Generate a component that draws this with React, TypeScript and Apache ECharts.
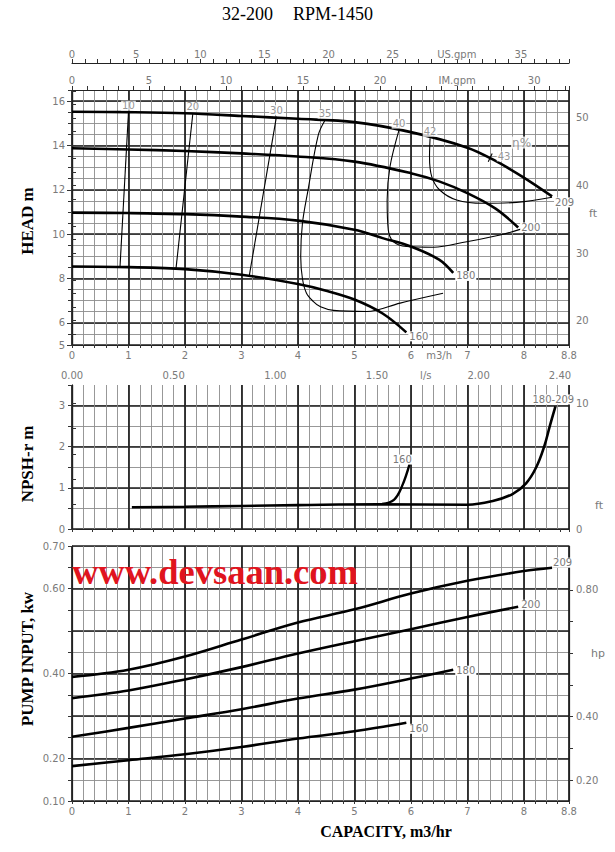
import React, { useEffect, useRef } from 'react';
import * as echarts from 'echarts';

// ---------------- data ----------------
const titleModel = '32-200';
const titleRpm = 'RPM-1450';

const qLabels = [0, 1, 2, 3, 4, 5, 6, 6.5, 7, 8, 8.8];
const qLabelsPower = [0, 1, 2, 3, 4, 5, 6, 7, 8, 8.8];
const headLabels = [5, 6, 8, 10, 12, 14, 16];
const headMajor = [5, 6, 8, 10, 12, 14, 16];
const ftTicks = [18, 20, 22, 24, 26, 28, 30, 32, 34, 36, 38, 40, 42, 44, 46, 48, 50, 52, 54];
const ftLabels = [20, 30, 40, 50];
const usGpmLabels = [0, 5, 10, 15, 20, 25, 30, 35];
const imGpmLabels = [0, 5, 10, 15, 20, 25, 30];
const lsLabels = [0, 0.5, 1, 1.5, 1.74, 2, 2.4];
const npshLabels = [0, 1, 2, 3];
const npshFtTicks = [0, 2, 4, 6, 8, 10];
const npshFtLabels = [0, 10];
const kwLabels = [0.1, 0.2, 0.4, 0.6, 0.7];
const hpTicks = [0.2, 0.3, 0.4, 0.5, 0.6, 0.7, 0.8, 0.9];
const hpLabels = [0.2, 0.4, 0.8];

// head curves [Q m3/h, H m]
const head209 = [[0, 15.52], [1, 15.5], [2, 15.45], [3, 15.33], [4, 15.2], [5, 15.05], [6, 14.6], [7, 13.9], [7.5, 13.3], [8, 12.55], [8.5, 11.7]];
const head200 = [[0, 13.87], [1, 13.82], [2, 13.75], [3, 13.64], [4, 13.5], [5, 13.27], [6, 12.75], [6.5, 12.38], [7, 11.85], [7.5, 11.15], [7.9, 10.3]];
const head180 = [[0, 10.97], [1, 10.95], [2, 10.9], [3, 10.79], [4, 10.61], [5, 10.2], [5.5, 9.82], [6, 9.44], [6.5, 8.85], [6.75, 8.25]];
const head160 = [[0, 8.54], [1, 8.51], [2, 8.42], [3, 8.17], [4, 7.75], [4.5, 7.45], [5, 7.05], [5.5, 6.42], [5.92, 5.57]];

// iso-efficiency curves [Q, H]
const eff10 = [[1.0, 15.5], [0.85, 8.52]];
const eff20 = [[2.14, 15.45], [1.84, 8.41]];
const eff30 = [[3.62, 15.3], [3.14, 8.14]];
const eff35 = [[4.48, 15.14], [4.36, 14.47], [4.18, 12.0], [4.08, 10.48], [4.05, 8.98], [4.08, 8.0], [4.15, 7.35], [4.27, 6.97], [4.4, 6.72], [4.63, 6.56], [5.22, 6.51], [5.81, 6.89], [6.57, 7.33]];
const eff40 = [[5.79, 14.69], [5.63, 13.04], [5.58, 11.54], [5.6, 10.19], [5.69, 9.66], [5.92, 9.44], [6.4, 9.41], [6.99, 9.66], [7.58, 9.96], [7.99, 10.26]];
const eff42 = [[6.34, 14.32], [6.33, 13.49], [6.37, 12.59], [6.51, 11.99], [6.81, 11.54], [7.28, 11.39], [7.87, 11.43], [8.5, 11.66]];
const eff43 = [[7.37, 13.26], [7.44, 13.64]];
const effNames = ['10', '20', '30', '35', '40', '42', '43'];
const etaLabel = 'η%';
const etaAt = [7.96, 14.13];

// NPSH-r [Q, m]
const npsh180209 = [[1.06, 0.53], [2, 0.54], [3, 0.56], [4, 0.58], [5.42, 0.6], [7, 0.59], [7.45, 0.68], [7.8, 0.85], [8.04, 1.11], [8.22, 1.5], [8.36, 2.0], [8.46, 2.5], [8.56, 2.98]];
const npsh160 = [[5.49, 0.61], [5.7, 0.71], [5.84, 1.03], [5.98, 1.59]];
const npshNames = ['180-209', '160'];

// pump input [Q, kW]
const pw209 = [[0, 0.392], [1, 0.409], [2, 0.44], [3, 0.48], [4, 0.52], [5, 0.551], [6, 0.588], [7, 0.618], [8, 0.641], [8.5, 0.649]];
const pw200 = [[0, 0.342], [1, 0.36], [2, 0.386], [3, 0.415], [4, 0.447], [5, 0.476], [6, 0.504], [7, 0.533], [7.9, 0.557]];
const pw180 = [[0, 0.251], [1, 0.272], [2, 0.294], [3, 0.316], [4, 0.341], [5, 0.362], [6, 0.388], [6.75, 0.409]];
const pw160 = [[0, 0.182], [1, 0.196], [2, 0.21], [3, 0.227], [4, 0.247], [5, 0.264], [5.92, 0.284]];
const impellers = ['209', '200', '180', '160'];

// unit conversions
const Q_MAX = 8.8;
const M_TO_FT = 3.28084;
const M3H_TO_USGPM = 4.40287;
const M3H_TO_IMGPM = 3.66614;
const M3H_TO_LS = 1 / 3.6;
const KW_TO_HP = 1.34102;
const H_MIN = 5, H_MAX = 16.5;
const N_MIN = 0, N_MAX = 3.5;
const P_MIN = 0.1, P_MAX = 0.7;

// ---------------- styles ----------------
const FONT = 'DejaVu Sans';
const SERIF = 'Liberation Serif';
const lbl = { color: '#7a7a7a', fontSize: 10, fontFamily: FONT };
const minorSplit = { show: true, lineStyle: { color: '#8c8c8c', width: 0.9 } };
const majorSplit = { show: true, lineStyle: { color: '#1c1c1c', width: 1.7 } };
const axisLn = { show: true, lineStyle: { color: '#222', width: 1.2 } };
const tickLn = { color: '#333', width: 1 };
const near = (a: number, b: number) => Math.abs(a - b) < 1e-6;

function xMinor(gridIndex: number, ticks: boolean) {
  return {
    type: 'value', gridIndex, position: 'bottom', min: 0, max: Q_MAX, interval: 0.2,
    axisLine: axisLn, axisTick: { show: ticks, length: 3, lineStyle: tickLn },
    axisLabel: { show: false }, splitLine: minorSplit,
  };
}
function xMajor(gridIndex: number, labels: number[] | null) {
  return {
    type: 'value', gridIndex, position: 'bottom', min: 0, max: Q_MAX, interval: 1,
    axisLine: { show: false }, axisTick: { show: false },
    axisLabel: labels
      ? {
          ...lbl, margin: 5, customValues: labels,
          formatter: (v: number) => (near(v, 8.8) ? '8.8' : near(v, 6.5) ? 'm3/h' : String(Math.round(v))),
        }
      : { show: false },
    splitLine: majorSplit,
  };
}

export default function App() {
  const ref = useRef<HTMLDivElement>(null);
  useEffect(() => {
    if (!ref.current) return;
    const chart = echarts.init(ref.current, null, { renderer: 'svg' });

    const grids = [
      { left: 72, top: 90, width: 497, height: 255 },
      { left: 72, top: 385, width: 497, height: 144 },
      { left: 72, top: 546, width: 497, height: 255 },
    ];

    const xAxis: any[] = [
      xMinor(0, true), // 0
      xMajor(0, qLabels), // 1
      { // 2 US gpm
        type: 'value', gridIndex: 0, position: 'top', offset: 27, min: 0, max: Q_MAX * M3H_TO_USGPM, interval: 1,
        axisLine: axisLn, axisTick: { show: true, length: 4, lineStyle: tickLn },
        axisLabel: { ...lbl, margin: 4, customValues: usGpmLabels, formatter: (v: number) => (near(v, 30) ? 'US.gpm' : String(Math.round(v))) },
        splitLine: { show: false },
      },
      { // 3 IM gpm
        type: 'value', gridIndex: 0, position: 'top', offset: 0, min: 0, max: Q_MAX * M3H_TO_IMGPM, interval: 1,
        axisLine: axisLn, axisTick: { show: true, length: 4, lineStyle: tickLn },
        axisLabel: { ...lbl, margin: 5, customValues: imGpmLabels, formatter: (v: number) => (near(v, 25) ? 'IM.gpm' : String(Math.round(v))) },
        splitLine: { show: false },
      },
      xMinor(1, false), // 4
      xMajor(1, null), // 5
      { // 6 l/s
        type: 'value', gridIndex: 1, position: 'top', offset: 19, min: 0, max: Q_MAX * M3H_TO_LS, interval: 0.1,
        axisLine: axisLn, axisTick: { show: true, inside: true, length: 3, lineStyle: tickLn },
        axisLabel: { ...lbl, inside: true, margin: 4, customValues: lsLabels, formatter: (v: number) => (near(v, 1.74) ? 'l/s' : v.toFixed(2)) },
        splitLine: { show: false },
      },
      xMinor(2, true), // 7
      xMajor(2, qLabelsPower), // 8
    ];

    const yAxis: any[] = [
      { // 0 head minor
        type: 'value', gridIndex: 0, position: 'left', min: H_MIN, max: H_MAX, interval: 0.5,
        axisLine: axisLn, axisTick: { show: true, length: 4, lineStyle: tickLn }, axisLabel: { show: false }, splitLine: minorSplit,
      },
      { // 1 head major
        type: 'value', gridIndex: 0, position: 'left', min: H_MIN, max: H_MAX, interval: 1,
        axisLine: { show: false }, axisTick: { show: true, length: 5, customValues: headMajor, lineStyle: tickLn },
        axisLabel: { ...lbl, margin: 7, customValues: headLabels }, splitLine: majorSplit,
      },
      { // 2 ft
        type: 'value', gridIndex: 0, position: 'right', min: H_MIN * M_TO_FT, max: H_MAX * M_TO_FT,
        axisLine: axisLn, axisTick: { show: true, length: 4, customValues: ftTicks, lineStyle: tickLn },
        axisLabel: { ...lbl, margin: 7, customValues: ftLabels }, splitLine: { show: false },
      },
      { // 3 npsh minor
        type: 'value', gridIndex: 1, position: 'left', min: N_MIN, max: N_MAX, interval: 0.5,
        axisLine: axisLn, axisTick: { show: true, length: 4, lineStyle: tickLn }, axisLabel: { show: false },
        splitLine: { ...minorSplit, showMaxLine: false },
      },
      { // 4 npsh major
        type: 'value', gridIndex: 1, position: 'left', min: N_MIN, max: N_MAX, interval: 1,
        axisLine: { show: false }, axisTick: { show: false },
        axisLabel: { ...lbl, margin: 7, customValues: npshLabels }, splitLine: { ...majorSplit, showMaxLine: false },
      },
      { // 5 npsh ft
        type: 'value', gridIndex: 1, position: 'right', min: N_MIN * M_TO_FT, max: N_MAX * M_TO_FT,
        axisLine: axisLn, axisTick: { show: true, length: 4, customValues: npshFtTicks, lineStyle: tickLn },
        axisLabel: { ...lbl, margin: 7, customValues: npshFtLabels }, splitLine: { show: false },
      },
      { // 6 power minor
        type: 'value', gridIndex: 2, position: 'left', min: P_MIN, max: P_MAX, interval: 0.05,
        axisLine: axisLn, axisTick: { show: true, length: 4, lineStyle: tickLn }, axisLabel: { show: false }, splitLine: minorSplit,
      },
      { // 7 power major
        type: 'value', gridIndex: 2, position: 'left', min: P_MIN, max: P_MAX, interval: 0.1,
        axisLine: { show: false }, axisTick: { show: false },
        axisLabel: { ...lbl, margin: 7, customValues: kwLabels, formatter: (v: number) => v.toFixed(2) }, splitLine: majorSplit,
      },
      { // 8 hp
        type: 'value', gridIndex: 2, position: 'right', min: P_MIN * KW_TO_HP, max: P_MAX * KW_TO_HP,
        axisLine: axisLn, axisTick: { show: true, length: 4, customValues: hpTicks, lineStyle: tickLn },
        axisLabel: { ...lbl, margin: 7, customValues: hpLabels, formatter: (v: number) => v.toFixed(2) }, splitLine: { show: false },
      },
    ];

    const curveLabel = { ...lbl, backgroundColor: '#fff', padding: [0, 1] };
    const mainCurve = (name: string, data: number[][], xi: number, yi: number, offset: number[]) => ({
      type: 'line', name, data, xAxisIndex: xi, yAxisIndex: yi, smooth: 0.35, symbol: 'none',
      lineStyle: { color: '#000', width: 2.6 }, z: 5,
      endLabel: { show: true, formatter: name, ...curveLabel, distance: 2, offset },
    });
    const thinCurve = (data: number[][], xi: number, yi: number, smooth: number) => ({
      type: 'line', data, xAxisIndex: xi, yAxisIndex: yi, smooth, symbol: 'none',
      lineStyle: { color: '#000', width: 1.1 }, z: 4,
    });

    const effCurves = [eff10, eff20, eff30, eff35, eff40, eff42];
    const headSet = [head209, head200, head180, head160];
    const headOffsets = [[0, 6], [0, 0], [0, 3], [0, 4]];
    const pwSet = [pw209, pw200, pw180, pw160];
    const pwOffsets = [[-2, -5], [0, -2], [0, 1], [0, 6]];

    const series: any[] = [
      ...headSet.map((d, i) => mainCurve(impellers[i], d, 1, 1, headOffsets[i])),
      ...effCurves.map((d, i) => thinCurve(d, 1, 1, i < 3 ? 0 : 0.35)),
      thinCurve(eff43, 1, 1, 0),
      {
        type: 'scatter', xAxisIndex: 1, yAxisIndex: 1, symbolSize: 1, itemStyle: { color: 'rgba(0,0,0,0)' }, z: 6,
        label: { show: true, position: 'top', distance: 1, formatter: (p: any) => p.name, ...curveLabel },
        data: [
          ...effCurves.map((d, i) => ({ name: effNames[i], value: d[0] })),
          { name: effNames[6], value: eff43[1], label: { position: 'right', distance: 4, offset: [0, 3] } },
          { name: etaLabel, value: etaAt, label: { position: 'inside', fontSize: 12 } },
        ],
      },
      // NPSH
      {
        type: 'line', data: npsh180209, xAxisIndex: 5, yAxisIndex: 4, smooth: 0.4, symbol: 'none',
        lineStyle: { color: '#000', width: 2.6 }, z: 5,
        endLabel: { show: true, formatter: npshNames[0], ...curveLabel, offset: [-32, -7] },
      },
      {
        type: 'line', data: npsh160, xAxisIndex: 5, yAxisIndex: 4, smooth: 0.4, symbol: 'none',
        lineStyle: { color: '#000', width: 2.4 }, z: 5,
        endLabel: { show: true, formatter: npshNames[1], ...curveLabel, offset: [-26, -4] },
      },
      // power
      ...pwSet.map((d, i) => mainCurve(impellers[i], d, 8, 7, pwOffsets[i])),
    ];

    const titleStyle = { fontFamily: SERIF, fontSize: 18, fill: '#000' };
    const axTitle = { fontFamily: SERIF, fontSize: 17, fontWeight: 'bold', fill: '#000', align: 'center', verticalAlign: 'middle' };
    const unitStyle = { fontFamily: FONT, fontSize: 11, fill: '#7a7a7a', align: 'center', verticalAlign: 'middle' };

    const graphic: any[] = [
      { type: 'text', x: 222, y: 14, style: { ...titleStyle, text: titleModel, verticalAlign: 'middle' } },
      { type: 'text', x: 293, y: 14, style: { ...titleStyle, text: titleRpm, verticalAlign: 'middle' } },
      { type: 'text', x: 27, y: 221, rotation: Math.PI / 2, style: { ...axTitle, text: 'HEAD m' } },
      { type: 'text', x: 27, y: 464, rotation: Math.PI / 2, style: { ...axTitle, text: 'NPSH-r m' } },
      { type: 'text', x: 27, y: 659, rotation: Math.PI / 2, style: { ...axTitle, text: 'PUMP INPUT, kw' } },
      { type: 'text', x: 386, y: 831, style: { ...axTitle, fontSize: 16, text: 'CAPACITY, m3/hr' } },
      { type: 'text', x: 593, y: 213, style: { ...unitStyle, text: 'ft' } },
      { type: 'text', x: 599, y: 505, style: { ...unitStyle, text: 'ft' } },
      { type: 'text', x: 598, y: 653, style: { ...unitStyle, text: 'hp' } },
      {
        type: 'text', x: 72, y: 571, z: 100,
        style: { text: 'www.devsaan.com', fontFamily: SERIF, fontSize: 36.5, fontWeight: 'bold', fill: '#e0141e', verticalAlign: 'middle' },
      },
    ];

    chart.setOption({
      animation: false,
      backgroundColor: '#fff',
      grid: grids,
      xAxis,
      yAxis,
      series,
      graphic,
    });
    return () => chart.dispose();
  }, []);

  return (
    <div
      ref={ref}
      style={{ position: 'fixed', left: 0, top: 0, width: 615, height: 852, background: '#fff' }}
    />
  );
}
